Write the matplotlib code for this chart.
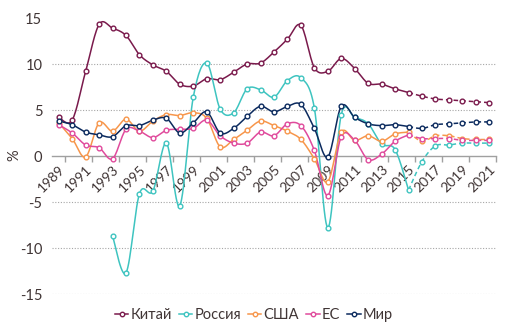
import numpy as np
import matplotlib
matplotlib.use('Agg')
import matplotlib.pyplot as plt
from matplotlib.lines import Line2D

plt.rcParams['font.family'] = ['Lato', 'DejaVu Sans']
plt.rcParams['axes.unicode_minus'] = False

years = list(range(1989, 2022))
last_fact = 2015  # after this year values are forecasts (dashed)

china = [4.2, 3.9, 9.2, 14.3, 13.9, 13.1, 11.0, 9.9, 9.2, 7.8, 7.6, 8.4, 8.3, 9.1, 10.0,
         10.1, 11.3, 12.7, 14.2, 9.6, 9.2, 10.6, 9.5, 7.9, 7.8, 7.3, 6.9,
         6.5, 6.2, 6.1, 6.0, 5.9, 5.8]
russia = [None, None, None, None, -8.7, -12.7, -4.1, -3.8, 1.4, -5.4, 6.4, 10.1, 5.1, 4.7, 7.3,
          7.2, 6.4, 8.2, 8.5, 5.2, -7.8, 4.5, 4.2, 3.5, 1.3, 0.7, -3.7,
          -0.6, 1.1, 1.2, 1.4, 1.4, 1.4]
usa = [3.6, 1.9, -0.1, 3.6, 2.7, 4.0, 2.7, 3.8, 4.5, 4.4, 4.7, 4.1, 1.0, 1.8, 2.8,
       3.8, 3.3, 2.7, 1.8, -0.3, -2.8, 2.6, 1.7, 2.2, 1.6, 2.4, 2.6,
       1.6, 2.2, 2.2, 1.9, 1.8, 1.8]
eu = [3.4, 2.5, 1.2, 0.9, -0.3, 2.9, 2.7, 2.0, 2.8, 2.9, 3.0, 3.9, 2.2, 1.4, 1.4,
      2.6, 2.2, 3.5, 3.3, 0.6, -4.3, 2.1, 1.7, -0.4, 0.2, 1.6, 2.3,
      1.9, 1.9, 1.9, 1.7, 1.7, 1.7]
world = [3.8, 3.4, 2.6, 2.3, 2.1, 3.3, 3.3, 3.9, 4.1, 2.5, 3.6, 4.8, 2.5, 3.0, 4.3,
         5.4, 4.8, 5.4, 5.6, 3.0, -0.1, 5.4, 4.2, 3.5, 3.3, 3.4, 3.2,
         3.0, 3.4, 3.5, 3.6, 3.7, 3.7]

names = ['Китай', 'Россия', 'США', 'ЕС', 'Мир']
colors = ['#7a1a4c', '#3ec4c0', '#f7964b', '#e04a9c', '#0b2a5e']
series = [china, russia, usa, eu, world]
TXT = '#403535'


def smooth(x, y, n=16):
    # Catmull-Rom style smoothing similar to Excel's "smoothed line"
    p = np.column_stack([x, y]).astype(float)
    if len(p) < 2:
        return p[:, 0], p[:, 1]
    ext = np.vstack([p[0], p, p[-1]])
    out = []
    t = np.linspace(0, 1, n)[:, None]
    for i in range(1, len(ext) - 2):
        p0, p1, p2, p3 = ext[i - 1], ext[i], ext[i + 1], ext[i + 2]
        b1 = p1 + (p2 - p0) / 6.0
        b2 = p2 - (p3 - p1) / 6.0
        seg = ((1 - t) ** 3) * p1 + 3 * ((1 - t) ** 2) * t * b1 + 3 * (1 - t) * t ** 2 * b2 + t ** 3 * p2
        out.append(seg if i == 1 else seg[1:])
    out = np.vstack(out)
    return out[:, 0], out[:, 1]


fig = plt.figure(figsize=(5.16, 3.31), dpi=100)
ax = fig.add_axes([52 / 516, 1 - 294 / 331, 444 / 516, 276 / 331])

ax.set_xlim(1988.5, 2021.5)
ax.set_ylim(-15, 15)

for vals, col, name in zip(series, colors, names):
    xs = np.array([yr for yr, v in zip(years, vals) if v is not None])
    vs = np.array([v for v in vals if v is not None])
    fact = xs <= last_fact
    fc = xs >= last_fact
    sx, sy = smooth(xs[fact], vs[fact])
    ax.plot(sx, sy, color=col, lw=1.1, zorder=3)
    fx, fy = smooth(xs[fc], vs[fc])
    ax.plot(fx, fy, color=col, lw=1.1, dashes=(3, 2), zorder=3)
    ax.plot(xs, vs, ls='none', marker='o', ms=3.4, mfc='white', mec=col, mew=1.0, zorder=4)

# grid
for g in [10, 5, -5, -10, -15]:
    ax.axhline(g, color='#a6a6a6', lw=0.8, ls=(0, (1, 1.5)), zorder=1)

for s in ['top', 'right', 'left']:
    ax.spines[s].set_visible(False)
ax.spines['bottom'].set_position(('data', 0))
ax.spines['bottom'].set_color('#a0a0a0')
ax.spines['bottom'].set_linewidth(1.0)
ax.spines['bottom'].set_zorder(2)

ax.set_xticks(np.arange(1989.5, 2022, 2))
ax.set_xticklabels([])
ax.tick_params(axis='x', which='major', length=4, color='#a0a0a0', width=1.0, direction='out')
ax.set_xticks(years[::2], minor=True)
ax.set_xticklabels([str(y) for y in years[::2]], minor=True, rotation=45,
                   ha='right', va='top', rotation_mode='anchor', fontsize=10, color=TXT)
ax.tick_params(axis='x', which='minor', length=0, pad=5)

ax.set_yticks([-15, -10, -5, 0, 5, 10, 15])
ax.set_yticklabels(['-15', '-10', '-5', '0', '5', '10', '15'], fontsize=10.5, color=TXT)
ax.tick_params(axis='y', length=0, pad=7)

fig.text(14 / 516, 1 - 155 / 331, '%', rotation=90, ha='center', va='center', fontsize=10.5, color=TXT)

handles = [Line2D([0], [0], color=c, lw=1.1, marker='o', ms=3.2, mfc='white', mec=c, mew=1.0)
           for c in colors]
fig.legend(handles, names, loc='center', bbox_to_anchor=(254 / 516, 1 - 315 / 331), ncol=5,
           frameon=False, fontsize=10.5, handlelength=0.9, handletextpad=0.15, columnspacing=0.5,
           labelcolor=TXT)

fig.savefig('out.png', dpi=100)
